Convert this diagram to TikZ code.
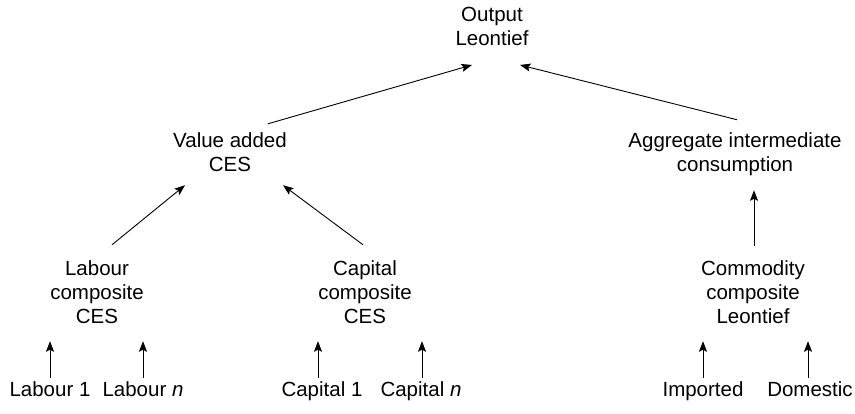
\documentclass[tikz,border=0pt]{standalone}
\usepackage{fontspec}
\setmainfont{Liberation Sans}
\usetikzlibrary{arrows.meta}
\begin{document}
\begin{tikzpicture}[x=1pt,y=-1pt,
    lbl/.style={inner sep=0pt, align=center, font=\fontsize{20.5}{24}\selectfont},
    arr/.style={-{Stealth[length=10.5pt,width=8pt,inset=2pt]}, line width=0.9pt}]
    \useasboundingbox (0,0) rectangle (855,414);
    \node [lbl] (out) at (492,26.5) {Output\\Leontief};
    \node [lbl] (va) at (230,152.5) {Value added\\CES};
    \node [lbl] (agg) at (735,154.5) {Aggregate intermediate\\consumption};
    \node [lbl] (labc) at (97,292.5) {Labour\\composite\\CES};
    \node [lbl] (capc) at (365,292.5) {Capital\\composite\\CES};
    \node [lbl] (comc) at (753,292.5) {Commodity\\composite\\Leontief};
    \node [lbl, anchor=base] (lab1) at (50,396) {Labour 1};
    \node [lbl, anchor=base] (labn) at (143,396) {Labour \textit{n}};
    \node [lbl, anchor=base] (cap1) at (322,396) {Capital 1};
    \node [lbl, anchor=base] (capn) at (421,396) {Capital \textit{n}};
    \node [lbl, anchor=base] (imp) at (703,396) {Imported};
    \node [lbl, anchor=base] (dom) at (810,396) {Domestic};
    \draw [arr] ([shift={(38,-9)}]va.north) -- ([shift={(-20,19)}]out.south);
    \draw [arr] ([shift={(2,-13)}]agg.north) -- ([shift={(28,19)}]out.south);
    \draw [arr] ([shift={(15,-16)}]labc.north) -- ([shift={(-45,13)}]va.south);
    \draw [arr] ([shift={(-2,-16)}]capc.north) -- ([shift={(53,13)}]va.south);
    \draw [arr, shorten <=15pt, shorten >=14pt] ([xshift=1pt]comc.north) -- ([xshift=1pt]comc.north |- agg.south);
    \draw [arr, shorten <=3pt, shorten >=17pt] (lab1.north) -- (lab1.north |- labc.south);
    \draw [arr, shorten <=3pt, shorten >=17pt] (labn.north) -- (labn.north |- labc.south);
    \draw [arr, shorten <=3pt, shorten >=17pt] ([xshift=-4pt]cap1.north) -- ([xshift=-4pt]cap1.north |- capc.south);
    \draw [arr, shorten <=3pt, shorten >=17pt] ([xshift=1pt]capn.north) -- ([xshift=1pt]capn.north |- capc.south);
    \draw [arr, shorten <=3pt, shorten >=17pt] (imp.north) -- (imp.north |- comc.south);
    \draw [arr, shorten <=3pt, shorten >=17pt] ([xshift=-2pt]dom.north) -- ([xshift=-2pt]dom.north |- comc.south);
\end{tikzpicture}
\end{document}
